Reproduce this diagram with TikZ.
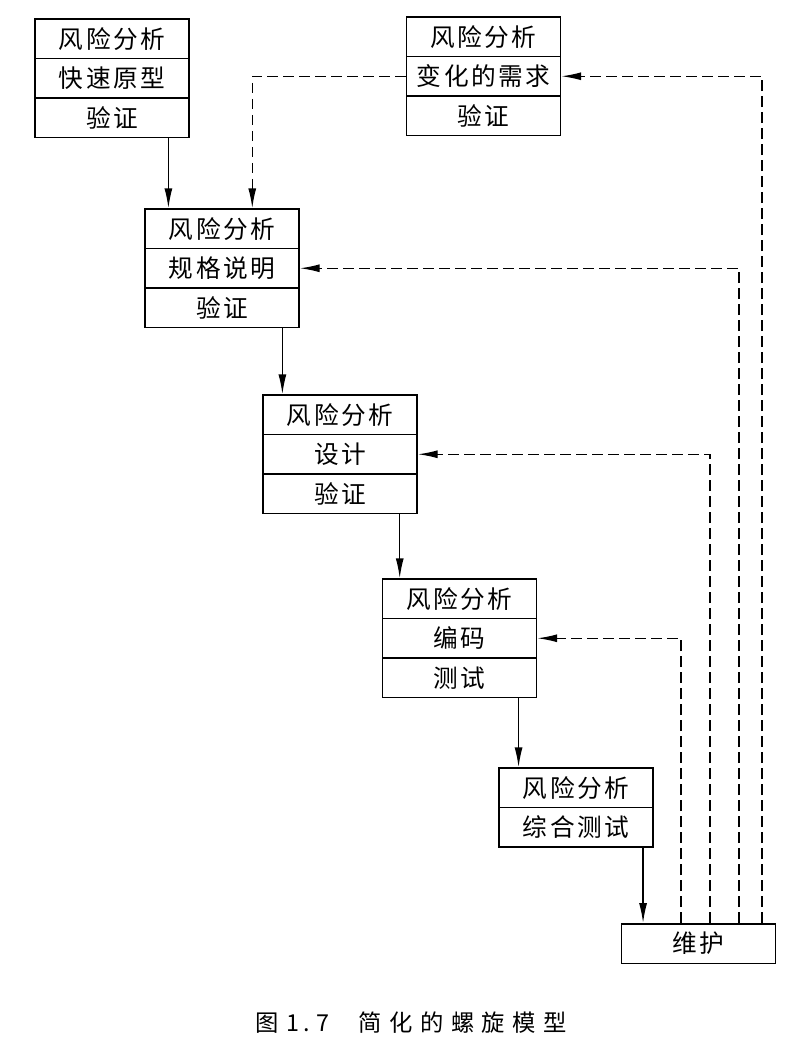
\documentclass[tikz,border=0pt]{standalone}
\usepackage{fontspec}
\setmainfont{Noto Sans CJK SC}
\newfontfamily\boxfont[LetterSpace=10]{Noto Sans CJK SC}
\newfontfamily\capfont[LetterSpace=32]{Noto Sans CJK SC}
\usetikzlibrary{positioning,arrows.meta}

\begin{document}
\begin{tikzpicture}[
  x=0.75pt,y=-0.75pt,
  line width=1.1pt,
  row/.style={rectangle,draw,minimum width=115.5pt,minimum height=29.6pt,inner sep=0pt,
    font={\boxfont\fontsize{18.5pt}{20pt}\selectfont}},
  flow/.style={-{Latex[length=15pt,width=6pt]}},
  back/.style={flow,dash pattern=on 8pt off 4pt}]

\useasboundingbox (0,0) rectangle (802,1058);

% prototype
\node[row] (p1) at (112,38.75) {风险分析};
\node[row] (p2) at (112,78.25) {快速原型};
\node[row] (p3) at (112,117.75) {验证};

% changed requirements
\node[row] (c1) at (483.5,36.75) {风险分析};
\node[row] (c2) at (483.5,76.25) {变化的需求};
\node[row] (c3) at (483.5,115.75) {验证};

% specification
\node[row] (s1) at (222,228.75) {风险分析};
\node[row] (s2) at (222,268.25) {规格说明};
\node[row] (s3) at (222,307.75) {验证};

% design
\node[row] (d1) at (340,414.75) {风险分析};
\node[row] (d2) at (340,454.25) {设计};
\node[row] (d3) at (340,493.75) {验证};

% coding
\node[row] (k1) at (459.5,598.75) {风险分析};
\node[row] (k2) at (459.5,638.25) {编码};
\node[row] (k3) at (459.5,677.75) {测试};

% integration
\node[row] (t1) at (576,787.75) {风险分析};
\node[row] (t2) at (576,827.25) {综合测试};

\node[row] (m) at (698.5,943.5) {维护};

\draw[flow] ([xshift=-16pt]p3.south east) coordinate (q1) -- (q1 |- s1.north);
\draw[flow] ([xshift=-13pt]s3.south east) coordinate (q2) -- (q2 |- d1.north);
\draw[flow] ([xshift=-13.5pt]d3.south east) coordinate (q3) -- (q3 |- k1.north);
\draw[flow] ([xshift=-14pt]k3.south east) coordinate (q4) -- (q4 |- t1.north);
\draw[flow] ([xshift=-8pt]t2.south east) coordinate (q5) -- (q5 |- m.north);

\draw[back] (c2.west) -| ([xshift=81pt]s1.north west);
\draw[back] ([xshift=45pt]m.north west) |- (k2.east);
\draw[back] ([xshift=67pt]m.north west) |- (d2.east);
\draw[back] ([xshift=88.5pt]m.north west) |- (s2.east);
\draw[back] ([xshift=106pt]m.north west) |- (c2.east);

\node[font={\fontsize{17.5pt}{19pt}\selectfont}] (cap) at (411,1023)
  {{\capfont 图}\hspace{6pt}1\hspace{3pt}.\hspace{5pt}7\hspace{22pt}{\capfont 简化的螺旋模型}};
\end{tikzpicture}
\end{document}
